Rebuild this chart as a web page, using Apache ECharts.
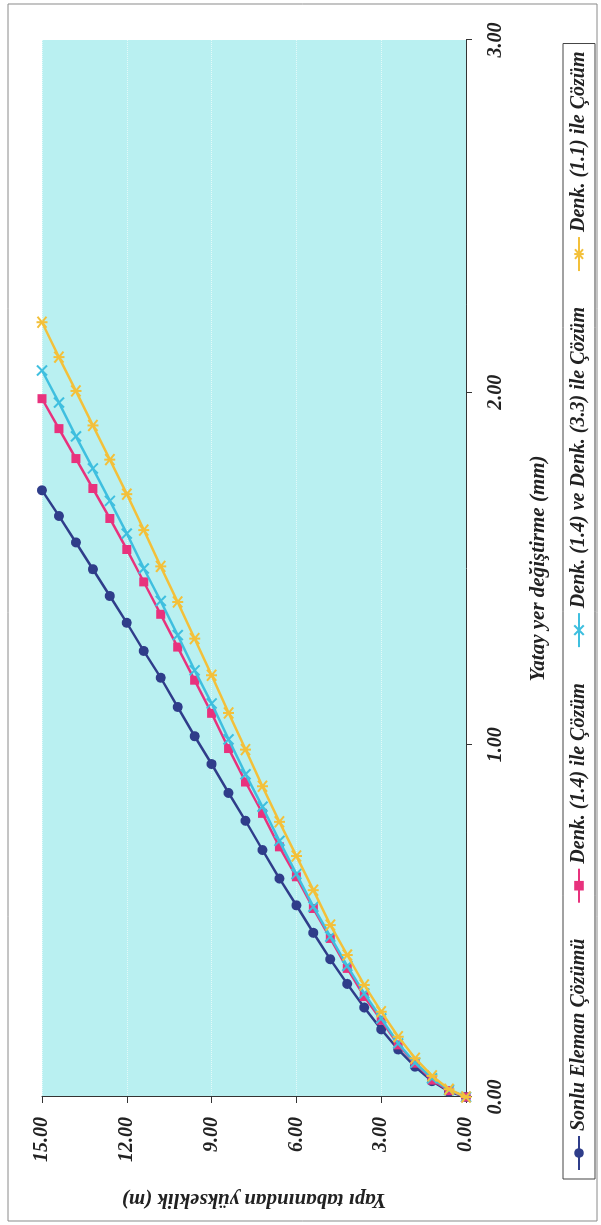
<!DOCTYPE html>
<html>
<head>
<meta charset="utf-8">
<script src="https://cdn.jsdelivr.net/npm/echarts@6/dist/echarts.min.js"></script>
<style>
html,body{margin:0;padding:0;background:#fff;}
body{width:601px;height:1225px;position:relative;overflow:hidden;}
#chart{position:absolute;left:0;top:0;width:1225px;height:601px;transform-origin:0 0;transform:translate(0px,1225px) rotate(-90deg);}
</style>
</head>
<body>
<div id="chart"></div>
<script>
// Heights above the base (m)
const heights = [0.0,0.6,1.2,1.8,2.4,3.0,3.6,4.2,4.8,5.4,6.0,6.6,7.2,7.8,8.4,9.0,9.6,10.2,10.8,11.4,12.0,12.6,13.2,13.8,14.4,15.0];
// Horizontal displacement (mm)
const sonluEleman = [0.000,0.015,0.045,0.086,0.135,0.192,0.254,0.321,0.391,0.466,0.544,0.620,0.701,0.784,0.863,0.945,1.024,1.107,1.190,1.266,1.346,1.422,1.498,1.574,1.649,1.722];
const denk14 = [0.000,0.018,0.048,0.096,0.148,0.218,0.285,0.365,0.450,0.535,0.625,0.710,0.805,0.894,0.989,1.089,1.183,1.277,1.370,1.462,1.554,1.642,1.727,1.812,1.897,1.982];
const denk14ve33 = [0.000,0.020,0.053,0.097,0.152,0.223,0.294,0.372,0.455,0.540,0.633,0.727,0.824,0.916,1.015,1.117,1.211,1.311,1.408,1.500,1.599,1.692,1.784,1.875,1.971,2.062];
const denk11 = [0.000,0.022,0.060,0.110,0.171,0.242,0.318,0.403,0.488,0.587,0.684,0.781,0.882,0.986,1.090,1.197,1.301,1.405,1.506,1.609,1.711,1.809,1.906,2.004,2.100,2.199];

const seriesNames = ['Sonlu Eleman Çözümü','Denk. (1.4) ile Çözüm','Denk. (1.4) ve Denk. (3.3) ile Çözüm','Denk. (1.1) ile Çözüm'];
const xAxisName = 'Yatay yer değiştirme (mm)';
const yAxisName = 'Yapı tabanından yükseklik (m)';

const FONT = 'Liberation Serif, Times New Roman, serif';
const txt = (size) => ({fontFamily: FONT, fontStyle: 'italic', fontWeight: 'bold', fontSize: size, color: '#222'});

const pair = (vals) => vals.map((v, i) => [v, heights[i]]);

const styles = [
  {color: '#2f3d8a', symbol: 'circle', size: 10},
  {color: '#e8327d', symbol: 'rect', size: 9},
  {color: '#3fbfdf', symbol: 'path://M0,0L10,10M10,0L0,10', size: 10},
  {color: '#f3c03a', symbol: 'path://M0,0L10,10M10,0L0,10M5,-1L5,11', size: 11}
];
const dataSets = [sonluEleman, denk14, denk14ve33, denk11];

const chart = echarts.init(document.getElementById('chart'), null, {renderer: 'canvas', width: 1225, height: 601});
chart.setOption({
  animation: false,
  backgroundColor: '#fff',
  graphic: [{
    type: 'rect', silent: true, z: -10,
    shape: {x: 4, y: 8, width: 1217, height: 589},
    style: {fill: 'none', stroke: '#8a8a8a', lineWidth: 1}
  }],
  grid: {left: 128, right: 40, top: 42, bottom: 135, show: true, backgroundColor: '#b9f0f1', borderWidth: 0},
  legend: {
    left: 46, top: 563,
    padding: [6, 8],
    itemGap: 35, itemWidth: 34, itemHeight: 12,
    borderColor: '#444', borderWidth: 1,
    textStyle: txt(20),
    data: seriesNames
  },
  xAxis: {
    type: 'value', min: 0, max: 3, interval: 1,
    name: xAxisName, nameLocation: 'middle', nameGap: 62, nameTextStyle: txt(21),
    axisLine: {show: true, lineStyle: {color: '#333', width: 1}},
    axisTick: {show: true, length: 6, lineStyle: {color: '#333'}},
    axisLabel: Object.assign(txt(20), {margin: 20, formatter: (v) => v.toFixed(2)}),
    splitLine: {show: false}
  },
  yAxis: {
    type: 'value', min: 0, max: 15, interval: 3,
    name: yAxisName, nameLocation: 'middle', nameGap: 92, nameRotate: 90, nameTextStyle: txt(21),
    axisLine: {show: true, lineStyle: {color: '#333', width: 1}},
    axisTick: {show: true, length: 6, lineStyle: {color: '#333'}},
    axisLabel: Object.assign(txt(20), {margin: 20, formatter: (v) => v.toFixed(2)}),
    splitLine: {show: true, lineStyle: {color: 'rgba(255,255,255,0.6)', type: 'dotted', width: 1}}
  },
  series: dataSets.map((d, i) => ({
    name: seriesNames[i],
    type: 'line',
    data: pair(d),
    symbol: styles[i].symbol,
    symbolSize: styles[i].size,
    lineStyle: {color: styles[i].color, width: 2.5},
    itemStyle: {color: styles[i].color, borderColor: styles[i].color, borderWidth: i >= 2 ? 2 : 0},
    z: 2 + i
  }))
});
</script>
</body>
</html>
